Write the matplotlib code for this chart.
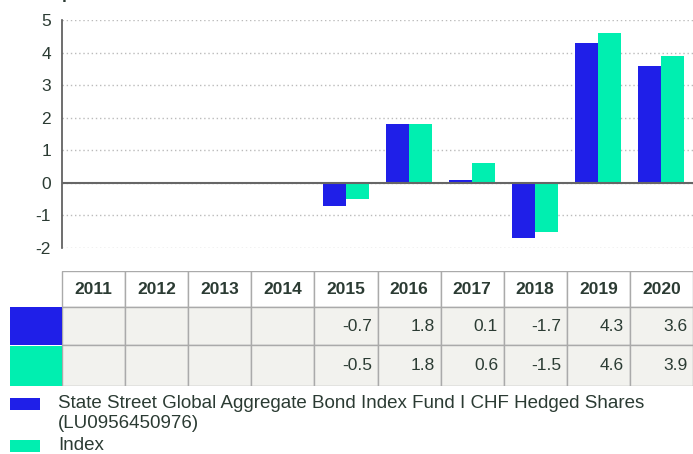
import numpy as np
import matplotlib
matplotlib.use('Agg')
import matplotlib.pyplot as plt
from matplotlib.patches import Rectangle

# --- datos ---
years = ['2011', '2012', '2013', '2014', '2015', '2016', '2017', '2018', '2019', '2020']
fund = [None, None, None, None, -0.7, 1.8, 0.1, -1.7, 4.3, 3.6]
index = [None, None, None, None, -0.5, 1.8, 0.6, -1.5, 4.6, 3.9]
fund_label = 'State Street Global Aggregate Bond Index Fund I CHF Hedged Shares\n(LU0956450976)'
index_label = 'Index'

BLUE = '#1f1fe8'
GREEN = '#00efb0'
TXT = '#2b3b33'
W, H = 693, 454

plt.rcParams['font.family'] = ['Liberation Sans', 'DejaVu Sans']

fig = plt.figure(figsize=(W / 100, H / 100), dpi=100)

def box(x0, y0, x1, y1):
    # caja en pixeles -> fraccion de figura
    return [x0 / W, 1 - y1 / H, (x1 - x0) / W, (y1 - y0) / H]

# --- barras ---
ax = fig.add_axes(box(62, 20, 693, 248))
x = np.arange(len(years))
bw = 0.365
fv = [np.nan if v is None else v for v in fund]
iv = [np.nan if v is None else v for v in index]
ax.bar(x - bw / 2, fv, bw, color=BLUE, zorder=3)
ax.bar(x + bw / 2, iv, bw, color=GREEN, zorder=3)
ax.set_xlim(-0.5, len(years) - 0.5)
ax.set_ylim(-2, 5)
ax.set_yticks(range(-2, 6))
ax.set_yticklabels([str(v) for v in range(-2, 6)], fontsize=12.5, color=TXT)
ax.set_xticks([])
ax.tick_params(axis='y', length=0, pad=8)
ax.yaxis.grid(True, linestyle=(0, (1, 2)), color='#bbbbbb', linewidth=1)
ax.axhline(0, color='#666666', linewidth=1.5, zorder=4)
for s in ['top', 'right', 'bottom']:
    ax.spines[s].set_visible(False)
ax.spines['left'].set_color('#555555')
ax.spines['left'].set_linewidth(1.2)

# titulo recortado en el borde superior, como en el original
fig.text(62 / W, 1 - 2 / H, 'percent', fontsize=12.5, fontweight='bold', color=TXT, va='bottom')

# --- tabla ---
tx = fig.add_axes(box(10, 271, 693, 386))
left = -0.5 - 52 / 63.1
tx.set_xlim(left, len(years) - 0.5)
tx.set_ylim(3, 0)
tx.axis('off')
edge = '#aaaaaa'
for i, yr in enumerate(years):
    tx.add_patch(Rectangle((i - 0.5, 0), 1, 0.93, facecolor='white', edgecolor=edge, lw=1))
    tx.text(i, 0.49, yr, ha='center', va='center', fontsize=12.5, fontweight='bold', color=TXT)
    for vals, y0, h in [(fund, 0.93, 1.01), (index, 1.94, 1.06)]:
        tx.add_patch(Rectangle((i - 0.5, y0), 1, h, facecolor='#f2f2ee', edgecolor=edge, lw=1))
        v = vals[i]
        if v is not None:
            tx.text(i + 0.41, y0 + h / 2, f'{v:.1f}', ha='right', va='center', fontsize=12.5, color=TXT)
tx.add_patch(Rectangle((left, 0.95), -0.5 - left, 0.98, facecolor=BLUE, edgecolor='none'))
tx.add_patch(Rectangle((left, 1.96), -0.5 - left, 1.04, facecolor=GREEN, edgecolor='none'))

# --- leyenda ---
fig.patches.append(Rectangle((10 / W, 1 - 410 / H), 30 / W, 12 / H, facecolor=BLUE,
                             transform=fig.transFigure, figure=fig))
fig.patches.append(Rectangle((10 / W, 1 - 452 / H), 30 / W, 12 / H, facecolor=GREEN,
                             transform=fig.transFigure, figure=fig))
fig.text(58 / W, 1 - 395 / H, fund_label, fontsize=13.5, color=TXT, va='top', linespacing=1.2)
fig.text(58 / W, 1 - 437 / H, index_label, fontsize=13.5, color=TXT, va='top')

fig.savefig('out.png', dpi=100)
